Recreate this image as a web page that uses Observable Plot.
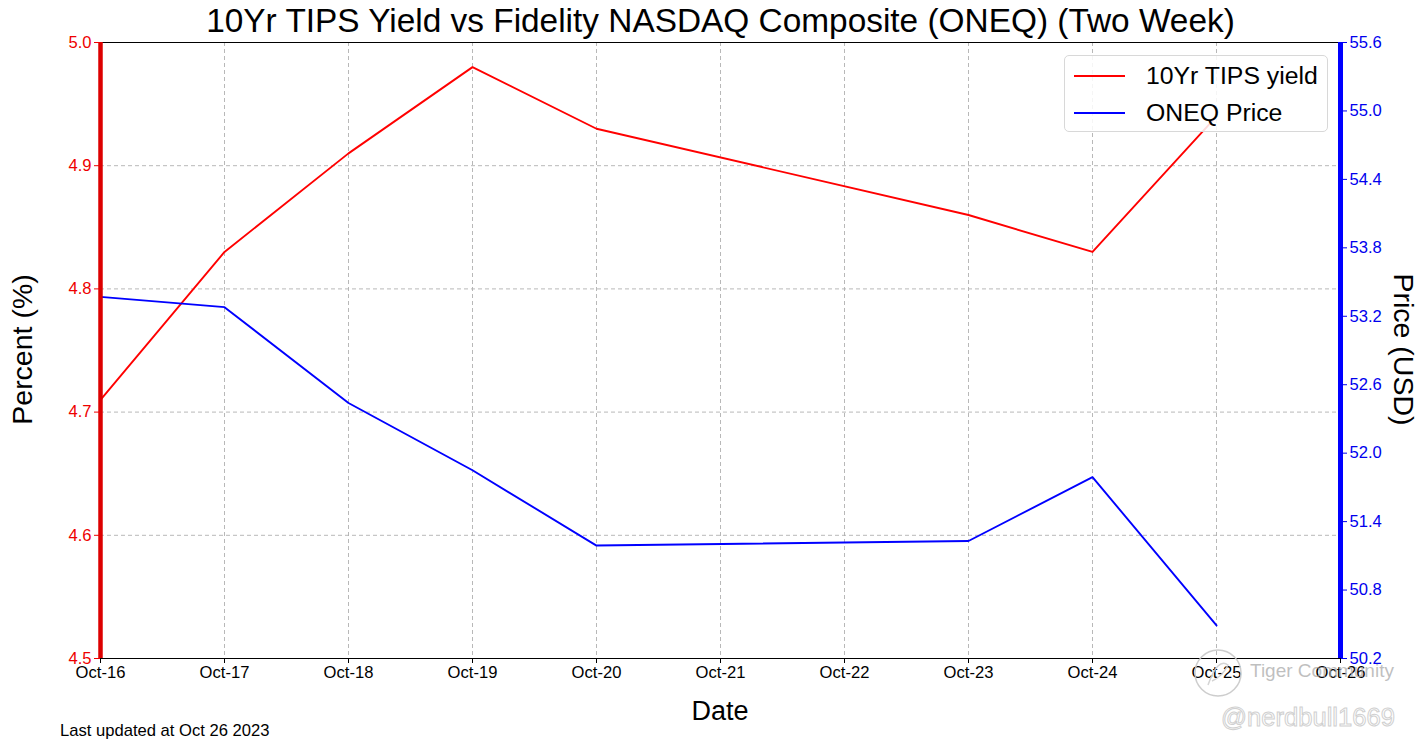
<!DOCTYPE html>
<html>
<head>
<meta charset="utf-8">
<script src="https://cdn.jsdelivr.net/npm/d3@7"></script>
<script src="https://cdn.jsdelivr.net/npm/@observablehq/plot@0.6"></script>
<style>
  html, body { margin: 0; padding: 0; background: #fff; }
  #wrap { position: relative; width: 1423px; height: 751px; font-family: "Liberation Sans", Arial, sans-serif; overflow: hidden; }
  .abs { position: absolute; white-space: nowrap; }
  svg { font-family: "Liberation Sans", Arial, sans-serif; }
  #wrap svg g text, #wrap svg g[aria-label$="tick label"] { font-size: 16.6px !important; }
</style>
</head>
<body>
<div id="wrap"></div>
<script>
// ---- data ----
const dates = ["2023-10-16","2023-10-17","2023-10-18","2023-10-19","2023-10-20","2023-10-23","2023-10-24","2023-10-25"];
const tipsYield = [4.71, 4.83, 4.91, 4.98, 4.93, 4.86, 4.83, 4.94];
const oneqPrice = [53.37, 53.28, 52.44, 51.85, 51.19, 51.23, 51.79, 50.49];
const tickDates = ["2023-10-16","2023-10-17","2023-10-18","2023-10-19","2023-10-20","2023-10-21","2023-10-22","2023-10-23","2023-10-24","2023-10-25","2023-10-26"];
const leftTicks = [4.5, 4.6, 4.7, 4.8, 4.9, 5.0];
const rightTicks = [50.2, 50.8, 51.4, 52.0, 52.6, 53.2, 53.8, 54.4, 55.0, 55.6];
const monthNames = ["Jan","Feb","Mar","Apr","May","Jun","Jul","Aug","Sep","Oct","Nov","Dec"];

const yDom = [4.5, 5.0];
const pDom = [50.2, 55.6];
const toY = p => yDom[0] + (p - pDom[0]) / (pDom[1] - pDom[0]) * (yDom[1] - yDom[0]);
const fromY = y => pDom[0] + (y - yDom[0]) / (yDom[1] - yDom[0]) * (pDom[1] - pDom[0]);

const parse = d3.utcParse("%Y-%m-%d");
const tipsData = dates.map((d, i) => ({date: parse(d), v: tipsYield[i]}));
const oneqData = dates.map((d, i) => ({date: parse(d), v: toY(oneqPrice[i])}));
const xTicks = tickDates.map(parse);
const fmtX = d => monthNames[d.getUTCMonth()] + "-" + d.getUTCDate();

const chart = Plot.plot({
  width: 1423,
  height: 751,
  marginLeft: 100,
  marginRight: 83,
  marginTop: 42,
  marginBottom: 93,
  style: {fontSize: "16.6px", fontFamily: "Liberation Sans, Arial, sans-serif", background: "white"},
  x: {type: "utc", domain: [xTicks[0], xTicks[xTicks.length - 1]], label: null},
  y: {domain: yDom, label: null},
  marks: [
    Plot.gridX(xTicks, {stroke: "#b0b0b0", strokeOpacity: 1, strokeWidth: 0.9, strokeDasharray: "4,3"}),
    Plot.gridY(leftTicks.slice(1, -1), {stroke: "#b0b0b0", strokeOpacity: 1, strokeWidth: 0.9, strokeDasharray: "4,3"}),
    Plot.ruleY([yDom[0]], {stroke: "black", strokeWidth: 1.2}),
    Plot.ruleY([yDom[1]], {stroke: "black", strokeWidth: 1.2}),
    Plot.line(tipsData, {x: "date", y: "v", stroke: "#ff0000", strokeWidth: 1.9}),
    Plot.line(oneqData, {x: "date", y: "v", stroke: "#0000ff", strokeWidth: 1.9}),
    Plot.ruleX([xTicks[0]], {stroke: "#dd0000", strokeWidth: 4.5}),
    Plot.ruleX([xTicks[xTicks.length - 1]], {stroke: "#0000ff", strokeWidth: 5}),
    Plot.axisX(xTicks, {anchor: "bottom", tickFormat: fmtX, tickSize: 5, tickPadding: 3, color: "black", fontSize: 16.6, label: null}),
    Plot.axisY(leftTicks, {anchor: "left", tickFormat: d3.format(".1f"), tickSize: 6, tickPadding: 3, color: "#ee0000", fontSize: 16.6, label: null}),
    Plot.axisY(rightTicks.map(toY), {anchor: "right", tickFormat: d => fromY(d).toFixed(1), tickSize: 6, tickPadding: 3, color: "#0000ee", fontSize: 16.6, label: null})
  ]
});

const wrap = document.getElementById("wrap");
wrap.appendChild(chart);

function addDiv(html, css) {
  const el = document.createElement("div");
  el.className = "abs";
  el.innerHTML = html;
  Object.assign(el.style, css);
  wrap.appendChild(el);
  return el;
}

addDiv("10Yr TIPS Yield vs Fidelity NASDAQ Composite (ONEQ) (Two Week)", {left: "0px", width: "1441px", textAlign: "center", top: "2px", fontSize: "33.4px", color: "#000"});
addDiv("Date", {left: "620px", width: "200px", textAlign: "center", top: "696px", fontSize: "27px", color: "#000"});
addDiv("Percent (%)", {left: "-78px", width: "200px", textAlign: "center", top: "333px", fontSize: "28.5px", color: "#000", transform: "rotate(-90deg)"});
addDiv("Price (USD)", {left: "1303px", width: "200px", textAlign: "center", top: "333px", fontSize: "28.5px", color: "#000", transform: "rotate(90deg)"});
addDiv("Last updated at Oct 26 2023", {left: "60px", top: "721px", fontSize: "16.6px", color: "#000"});

// legend
addDiv(
  '<div style="display:flex;align-items:center;height:37px"><span style="display:inline-block;width:51px;height:2px;background:#ff0000;margin:0 21px 0 9px"></span><span>10Yr TIPS yield</span></div>' +
  '<div style="display:flex;align-items:center;height:37px"><span style="display:inline-block;width:51px;height:2px;background:#0000ff;margin:0 21px 0 9px"></span><span>ONEQ Price</span></div>',
  {left: "1064px", top: "55px", width: "264px", height: "77px", border: "1px solid #d8d8d8", borderRadius: "5px", background: "rgba(255,255,255,0.85)", fontSize: "24.8px", color: "#000", paddingTop: "1px", boxSizing: "border-box"}
);

// watermark
addDiv('<svg width="52" height="52"><circle cx="26" cy="26" r="23" fill="none" stroke="#c8c8c8" stroke-width="1.5"/><path d="M16 38 Q26 10 36 18 Q30 30 20 34" fill="none" stroke="#d0d0d0" stroke-width="1.5"/></svg>', {left: "1192px", top: "647px", opacity: "0.9"});
addDiv("Tiger Community", {left: "1250px", top: "660px", fontSize: "19px", color: "rgba(170,170,170,0.75)"});
addDiv("@nerdbull1669", {left: "1221px", top: "703px", fontSize: "25.6px", color: "rgba(255,255,255,0.6)", WebkitTextStroke: "1px #d0d0d0"});
</script>
</body>
</html>
